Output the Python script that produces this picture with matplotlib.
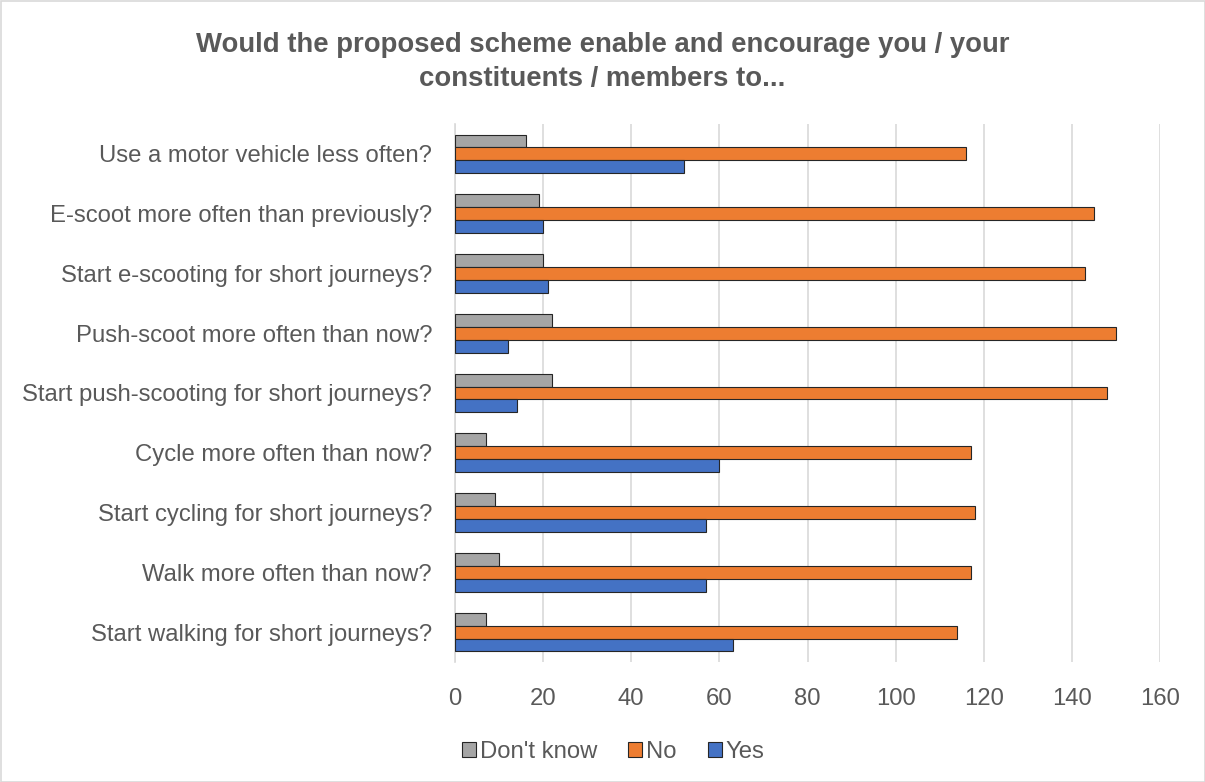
import matplotlib
matplotlib.use("Agg")
import matplotlib.pyplot as plt
import numpy as np
from matplotlib.patches import Rectangle

plt.rcParams['font.family'] = ['Liberation Sans', 'DejaVu Sans']

categories = [
    "Use a motor vehicle less often?",
    "E-scoot more often than previously?",
    "Start e-scooting for short journeys?",
    "Push-scoot more often than now?",
    "Start push-scooting for short journeys?",
    "Cycle more often than now?",
    "Start cycling for short journeys?",
    "Walk more often than now?",
    "Start walking for short journeys?",
]
dont_know = [16, 19, 20, 22, 22, 7, 9, 10, 7]
no = [116, 145, 143, 150, 148, 117, 118, 117, 114]
yes = [52, 20, 21, 12, 14, 60, 57, 57, 63]
xticks = [0, 20, 40, 60, 80, 100, 120, 140, 160]

fig = plt.figure(figsize=(12.05, 7.82), dpi=100)
ax = fig.add_axes([455/1205, 1-662/782, (1160-455)/1205, (662-124)/782])

n = len(categories)
y = np.arange(n)
h = 0.215
text_col = '#595959'
ax.barh(y - h, dont_know, height=h, color='#A5A5A5', edgecolor='#262626', linewidth=0.8, label="Don't know", zorder=3)
ax.barh(y, no, height=h, color='#ED7D31', edgecolor='#262626', linewidth=0.8, label="No", zorder=3)
ax.barh(y + h, yes, height=h, color='#4472C4', edgecolor='#262626', linewidth=0.8, label="Yes", zorder=3)

ax.set_ylim(n - 0.5, -0.5)
ax.set_xlim(0, 160)
ax.set_xticks(xticks)
ax.set_yticks(y)
ax.set_yticklabels(categories)
ax.tick_params(axis='both', length=0, labelsize=17.2, colors=text_col)
ax.tick_params(axis='y', pad=16.5)
ax.tick_params(axis='x', pad=19)
ax.grid(axis='x', color='#D9D9D9', linewidth=1.2, zorder=0)
for s in ['top', 'right', 'bottom']:
    ax.spines[s].set_visible(False)
ax.spines['left'].set_color('#D9D9D9')
ax.spines['left'].set_linewidth(1.2)

fig.text(0.5, 1-62/782, "Would the proposed scheme enable and encourage you / your\nconstituents / members to...",
         ha='center', va='center', fontsize=19.8, fontweight='bold', color=text_col, linespacing=1.38)

leg = fig.legend(loc='center', bbox_to_anchor=(613/1205, 1-752/782), ncol=3, frameon=False,
                 fontsize=17.2, handlelength=0.6, handleheight=0.6, handletextpad=0.15, columnspacing=1.3,
                 labelcolor=text_col)

fig.add_artist(Rectangle((0.5/1205, 0.5/782), 1-1/1205, 1-1/782, transform=fig.transFigure,
                         fill=False, edgecolor='#D9D9D9', linewidth=1.2))

fig.savefig("out.png", dpi=100)
